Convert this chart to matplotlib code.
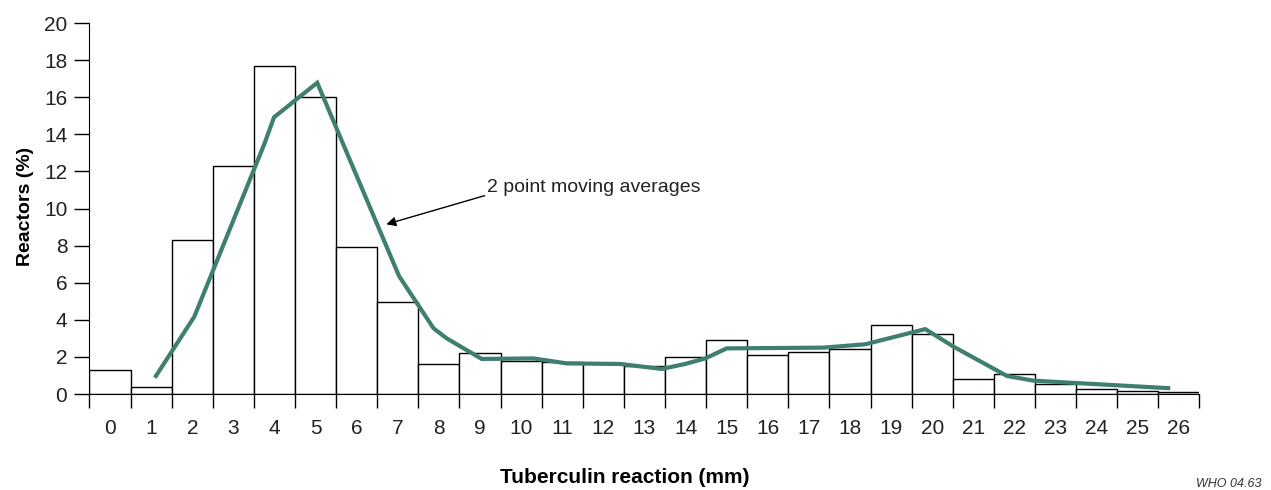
import numpy as np
import matplotlib.pyplot as plt

# Reactors (%) per tuberculin reaction size (mm)
reaction_mm = list(range(27))
reactors_pct = [1.3, 0.4, 8.3, 12.3, 17.7, 16.0, 7.95, 4.95, 1.6, 2.2,
                1.8, 1.7, 1.65, 1.5, 2.0, 2.9, 2.1, 2.25, 2.4, 3.7,
                3.25, 0.83, 1.1, 0.52, 0.25, 0.18, 0.12]

# 2 point moving averages (as drawn)
ma_x = [1.09, 2.05, 3.75, 3.99, 5.04, 7.03, 7.87, 8.19, 9.04, 10.3,
        11.11, 12.41, 13.42, 13.99, 14.48, 15.0, 17.35, 18.37, 19.83,
        20.52, 21.82, 22.46, 25.79]
ma_y = [0.88, 4.17, 13.46, 14.92, 16.78, 6.36, 3.54, 3.0, 1.89, 1.92,
        1.65, 1.62, 1.35, 1.62, 1.92, 2.46, 2.5, 2.68, 3.5,
        2.55, 0.97, 0.72, 0.31]

plt.rcParams['font.family'] = ['Liberation Sans', 'DejaVu Sans']

fig = plt.figure(figsize=(12.71, 4.90), dpi=100)
ax = fig.add_axes([0.0704, 0.1959, 0.8733, 0.7571])

ax.bar(reaction_mm, reactors_pct, width=1.0, color='white', edgecolor='black', linewidth=1.0)
ax.plot(ma_x, ma_y, color='#3f7f70', linewidth=3, solid_capstyle='butt', solid_joinstyle='miter')

ax.set_xlim(-0.5, 26.5)
ax.set_ylim(0, 20)
ax.spines['top'].set_visible(False)
ax.spines['right'].set_visible(False)

ax.set_xticks(reaction_mm)
ax.set_xticklabels([str(v) for v in reaction_mm])
ax.set_xticks(np.arange(-0.5, 27, 1), minor=True)
ax.tick_params(axis='x', which='major', length=0, labelsize=15, pad=18, colors='#222222')
ax.tick_params(axis='x', which='minor', length=10, width=1.0)
ax.set_yticks(range(0, 21, 2))
ax.tick_params(axis='y', length=11, width=1.0, labelsize=15, pad=5, labelcolor='#222222')

ax.annotate('2 point moving averages', xy=(6.72, 9.15), xytext=(9.18, 11.15),
            fontsize=14, ha='left', va='center', color='#222222',
            arrowprops=dict(arrowstyle='-|>', color='black', lw=1.0, shrinkA=0, shrinkB=0,
                            mutation_scale=14, relpos=(0, 0.05)))

fig.text(25 / 1271, 1 - 206 / 490, 'Reactors (%)', rotation=90, ha='center', va='center',
         fontsize=14, fontweight='bold')
fig.text(625 / 1271, 1 - 477 / 490, 'Tuberculin reaction (mm)', ha='center', va='center',
         fontsize=15, fontweight='bold')
fig.text(1262 / 1271, 1 - 484 / 490, 'WHO 04.63', ha='right', va='center',
         fontsize=9, style='italic', color='#333333')

fig.savefig('out.png', dpi=100)
